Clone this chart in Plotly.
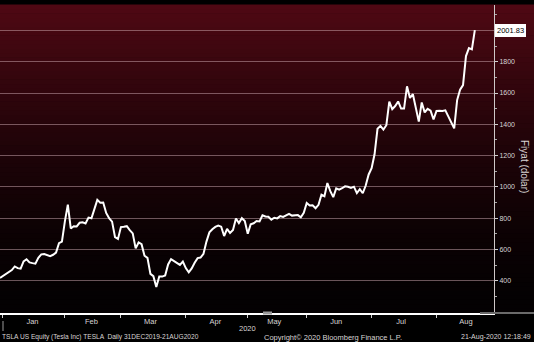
import plotly.graph_objects as go

# ---------------- data ----------------
dates = [
    "2019-12-31",
    "2020-01-02", "2020-01-03", "2020-01-06", "2020-01-07", "2020-01-08", "2020-01-09", "2020-01-10",
    "2020-01-13", "2020-01-14", "2020-01-15", "2020-01-16", "2020-01-17",
    "2020-01-21", "2020-01-22", "2020-01-23", "2020-01-24",
    "2020-01-27", "2020-01-28", "2020-01-29", "2020-01-30", "2020-01-31",
    "2020-02-03", "2020-02-04", "2020-02-05", "2020-02-06", "2020-02-07",
    "2020-02-10", "2020-02-11", "2020-02-12", "2020-02-13", "2020-02-14",
    "2020-02-18", "2020-02-19", "2020-02-20", "2020-02-21",
    "2020-02-24", "2020-02-25", "2020-02-26", "2020-02-27", "2020-02-28",
    "2020-03-02", "2020-03-03", "2020-03-04", "2020-03-05", "2020-03-06",
    "2020-03-09", "2020-03-10", "2020-03-11", "2020-03-12", "2020-03-13",
    "2020-03-16", "2020-03-17", "2020-03-18", "2020-03-19", "2020-03-20",
    "2020-03-23", "2020-03-24", "2020-03-25", "2020-03-26", "2020-03-27",
    "2020-03-30", "2020-03-31",
    "2020-04-01", "2020-04-02", "2020-04-03",
    "2020-04-06", "2020-04-07", "2020-04-08", "2020-04-09",
    "2020-04-13", "2020-04-14", "2020-04-15", "2020-04-16", "2020-04-17",
    "2020-04-20", "2020-04-21", "2020-04-22", "2020-04-23", "2020-04-24",
    "2020-04-27", "2020-04-28", "2020-04-29", "2020-04-30",
    "2020-05-01",
    "2020-05-04", "2020-05-05", "2020-05-06", "2020-05-07", "2020-05-08",
    "2020-05-11", "2020-05-12", "2020-05-13", "2020-05-14", "2020-05-15",
    "2020-05-18", "2020-05-19", "2020-05-20", "2020-05-21", "2020-05-22",
    "2020-05-26", "2020-05-27", "2020-05-28", "2020-05-29",
    "2020-06-01", "2020-06-02", "2020-06-03", "2020-06-04", "2020-06-05",
    "2020-06-08", "2020-06-09", "2020-06-10", "2020-06-11", "2020-06-12",
    "2020-06-15", "2020-06-16", "2020-06-17", "2020-06-18", "2020-06-19",
    "2020-06-22", "2020-06-23", "2020-06-24", "2020-06-25", "2020-06-26",
    "2020-06-29", "2020-06-30",
    "2020-07-01", "2020-07-02",
    "2020-07-06", "2020-07-07", "2020-07-08", "2020-07-09", "2020-07-10",
    "2020-07-13", "2020-07-14", "2020-07-15", "2020-07-16", "2020-07-17",
    "2020-07-20", "2020-07-21", "2020-07-22", "2020-07-23", "2020-07-24",
    "2020-07-27", "2020-07-28", "2020-07-29", "2020-07-30", "2020-07-31",
    "2020-08-03", "2020-08-04", "2020-08-05", "2020-08-06", "2020-08-07",
    "2020-08-10", "2020-08-11", "2020-08-12", "2020-08-13", "2020-08-14",
    "2020-08-17", "2020-08-18", "2020-08-19", "2020-08-20",
]

close = [
    418.33,
    430.26, 443.01, 451.54, 469.06, 492.14, 481.34, 478.15, 524.86, 537.92, 518.50,
    513.49, 510.50, 547.20, 569.56, 572.20, 564.82, 558.02, 566.90, 580.99, 640.81, 650.57,
    780.00, 887.06, 734.70, 748.96, 748.07, 771.28, 774.38, 767.29, 804.00, 800.03,
    858.40, 917.42, 899.41, 901.00, 833.79, 799.91, 778.80, 679.00, 667.99,
    743.62, 745.51, 749.50, 724.54, 703.48, 608.00, 645.33, 634.23, 560.55, 546.62,
    445.07, 430.20, 361.22, 427.64, 427.53, 434.29, 505.00, 539.25, 528.16, 514.36,
    502.13, 524.00,
    481.56, 454.47, 480.01, 516.24, 545.45, 548.84, 573.00, 650.95, 709.89, 729.83,
    745.21, 753.89, 746.36, 686.72, 732.11, 705.63, 725.15, 798.75, 769.12, 800.51, 781.88,
    701.32, 761.19, 768.21, 782.58, 780.04, 819.42, 811.29, 809.41, 790.96, 803.33,
    799.17, 813.63, 808.01, 815.56, 827.60, 816.88, 818.87, 820.23, 805.81, 835.00,
    898.10, 881.56, 882.96, 864.38, 885.66, 949.92, 940.67, 1025.05, 972.84, 935.28,
    990.90, 982.13, 991.79, 1003.96, 1000.90, 994.32, 1001.78, 960.85, 985.98, 959.74,
    1009.35, 1079.81,
    1119.63, 1208.66, 1371.58, 1389.86, 1365.88, 1394.28, 1544.65, 1497.06, 1516.80, 1546.01,
    1500.64, 1500.84, 1643.00, 1568.36, 1592.33, 1513.07, 1417.00, 1539.60, 1476.49, 1499.11,
    1487.49, 1430.76,
    1485.00, 1487.00, 1485.02, 1489.58, 1452.71, 1418.57, 1374.39, 1554.76, 1621.00, 1650.71,
    1835.64, 1887.09, 1878.53, 2001.83,
]

holidays = ["2020-01-01", "2020-01-20", "2020-02-17", "2020-04-10", "2020-05-25", "2020-07-03"]
month_labels = ["Jan", "Feb", "Mar", "Apr", "May", "Jun", "Jul", "Aug"]
month_label_dates = ["2020-01-16", "2020-02-14", "2020-03-16", "2020-04-16",
                     "2020-05-14", "2020-06-15", "2020-07-16", "2020-08-17"]
month_start_dates = ["2020-01-02", "2020-02-03", "2020-03-02", "2020-04-01",
                     "2020-05-01", "2020-06-01", "2020-07-01", "2020-08-03"]
y_tick_vals = [400, 600, 800, 1000, 1200, 1400, 1600, 1800, 2000]
y_tick_text = ["400", "600", "800", "1000", "1200", "1400", "1600", "1800", ""]
last_value = close[-1]

# ---------------- layout geometry ----------------
W, H = 534, 342
ML, MR, MT, MB = 0, 40, 5, 29
PW = W - ML - MR
PH = H - MT - MB
FONT = "Liberation Sans Narrow, Liberation Sans, Arial, sans-serif"
TXT = "#d8d4d4"

fig = go.Figure()
fig.add_trace(go.Scatter(
    x=dates, y=close, mode="lines",
    line=dict(color="white", width=2),
    hoverinfo="skip", showlegend=False,
))

# background gradient (dark red at top -> black at bottom)
shapes = []
n = 70
for i in range(n):
    t0 = i / n
    t1 = (i + 1) / n
    tm = (t0 + t1) / 2  # 0 bottom .. 1 top
    f = tm ** 1.6
    r = int(4 + 76 * f)
    g = int(1 + 8 * f)
    b = int(2 + 18 * f)
    shapes.append(dict(
        type="rect", xref="paper", yref="paper",
        x0=0, x1=W / PW, y0=t0, y1=t1 + 0.002,
        fillcolor=f"rgb({r},{g},{b})", line=dict(width=0), layer="below",
    ))

# decorative bits on x-axis
shapes.append(dict(type="line", xref="paper", yref="paper",
                   x0=480 / PW, x1=W / PW, y0=0, y1=0,
                   line=dict(color="#6a6a6a", width=2), layer="above"))
shapes.append(dict(type="line", xref="paper", yref="paper",
                   x0=263 / PW, x1=272 / PW, y0=0, y1=0,
                   line=dict(color="#9a9a9a", width=3), layer="above"))
shapes.append(dict(type="line", xref="paper", yref="paper",
                   x0=3 / PW, x1=3 / PW, y0=-8 / PH, y1=-18 / PH,
                   line=dict(color="#9a9a9a", width=1), layer="above"))

annotations = [
    dict(x=1, xref="paper", xanchor="left", xshift=1,
         y=last_value, yref="y", yanchor="middle",
         text=f"{last_value:.2f}", showarrow=False,
         bgcolor="white", bordercolor="white", borderpad=1,
         font=dict(family=FONT, size=7.5, color="black")),
    dict(x=(525 - ML) / PW, xref="paper", xanchor="center",
         y=(MT + PH - 166) / PH, yref="paper", yanchor="middle",
         text="Fiyat (dolar)", textangle=90, showarrow=False,
         font=dict(family=FONT, size=10, color=TXT)),
    dict(x=247 / PW, xref="paper", xanchor="center",
         y=-15 / PH, yref="paper", yanchor="middle",
         text="2020", showarrow=False,
         font=dict(family=FONT, size=7.5, color=TXT)),
    dict(x=0, xref="paper", xanchor="left",
         y=-24 / PH, yref="paper", yanchor="middle",
         text="TSLA US Equity (Tesla Inc) TESLA  Daily 31DEC2019-21AUG2020", showarrow=False,
         font=dict(family=FONT, size=6.6, color=TXT)),
    dict(x=262 / PW, xref="paper", xanchor="left",
         y=-24 / PH, yref="paper", yanchor="middle",
         text="Copyright© 2020 Bloomberg Finance L.P.", showarrow=False,
         font=dict(family=FONT, size=7.5, color=TXT)),
    dict(x=533 / PW, xref="paper", xanchor="right",
         y=-24 / PH, yref="paper", yanchor="middle",
         text="21-Aug-2020 12:18:49", showarrow=False,
         font=dict(family=FONT, size=7, color=TXT)),
]

fig.update_layout(
    width=W, height=H,
    margin=dict(l=ML, r=MR, t=MT, b=MB, pad=0),
    paper_bgcolor="black", plot_bgcolor="rgba(0,0,0,0)",
    showlegend=False,
    shapes=shapes, annotations=annotations,
    xaxis=dict(
        type="date",
        range=["2019-12-31", "2020-08-28 12:00"],
        rangebreaks=[dict(bounds=["sat", "mon"]), dict(values=holidays)],
        tickmode="array", tickvals=month_label_dates, ticktext=month_labels,
        ticks="", showgrid=False, zeroline=False,
        showline=True, linecolor="white", linewidth=1.5,
        tickfont=dict(family=FONT, size=7.5, color=TXT),
        minor=dict(tickmode="array", tickvals=month_start_dates,
                   ticks="outside", ticklen=3, tickcolor="#cfcfcf", showgrid=False),
        fixedrange=True,
    ),
    yaxis=dict(
        side="right",
        range=[195, 2162],
        tickmode="array", tickvals=y_tick_vals, ticktext=y_tick_text,
        ticks="outside", ticklen=3, tickcolor="#cfcfcf", tickwidth=1,
        showgrid=True, gridcolor="rgba(205,170,178,0.5)", gridwidth=1,
        zeroline=False,
        showline=True, linecolor="#cfc8c8", linewidth=1,
        tickfont=dict(family=FONT, size=7, color=TXT),
        minor=dict(tickmode="linear", tick0=0, dtick=100,
                   ticks="outside", ticklen=2, tickcolor="#a8a8a8", showgrid=False),
        fixedrange=True,
    ),
)

fig.write_html("out.html")
